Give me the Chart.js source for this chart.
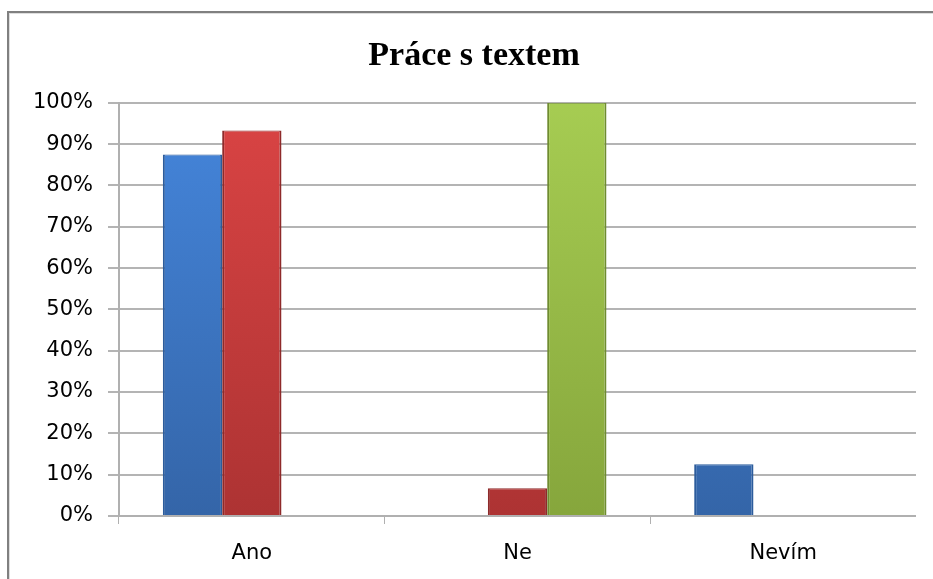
<!DOCTYPE html>
<html>
<head>
<meta charset="utf-8">
<script src="https://cdn.jsdelivr.net/npm/chart.js@4/dist/chart.umd.min.js"></script>
<style>
  html, body { margin:0; padding:0; background:#fff; overflow:hidden; width:933px; height:579px; position:relative; }
  .frame { position:absolute; left:7px; top:11px; width:1200px; height:1200px;
           border-left:2px solid #808080; border-top:2px solid #808080; }
  .frame-in { position:absolute; left:9px; top:13px; width:1200px; height:1200px;
              border-left:1px solid #dedede; border-top:1px solid #dedede; }
  .wrap { position:absolute; left:8px; top:11px; width:908px; height:580px; }
</style>
</head>
<body>
<div class="frame"></div>
<div class="frame-in"></div>
<div class="wrap"><canvas id="c"></canvas></div>
<script>
/* chart values */
var CATEGORIES = ['Ano', 'Ne', 'Nevím'];
var SERIES_1   = [87.5, 0, 12.5];   // blue
var SERIES_2   = [93.3, 6.7, 0];    // red
var SERIES_3   = [0, 100, 0];       // green
var Y_TICKS    = [0, 10, 20, 30, 40, 50, 60, 70, 80, 90, 100];
var TITLE      = 'Práce s textem';

function grad(top, bottom) {
  return function(ctx) {
    var ca = ctx.chart.chartArea;
    if (!ca) return top;
    var g = ctx.chart.ctx.createLinearGradient(0, ca.top, 0, ca.bottom);
    g.addColorStop(0, top);
    g.addColorStop(1, bottom);
    return g;
  };
}

function ds(data, top, bottom, border) {
  return {
    data: data,
    backgroundColor: grad(top, bottom),
    borderColor: border,
    borderWidth: { left: 2, right: 2, top: 1, bottom: 0 },
    borderSkipped: 'bottom',
    categoryPercentage: 0.67,
    barPercentage: 1
  };
}

new Chart(document.getElementById('c'), {
  type: 'bar',
  data: {
    labels: CATEGORIES,
    datasets: [
      ds(SERIES_1, '#4586dc', '#3465a8', '#2c5c9c'),
      ds(SERIES_2, '#da4444', '#ad3333', '#8e2a2a'),
      ds(SERIES_3, '#a6cc52', '#86a63c', '#6f8c30')
    ]
  },
  options: {
    responsive: true, maintainAspectRatio: false, animation: false,
    // left padding pushes the title towards the middle of the frame
    layout: { padding: { left: 24, right: 0, top: 0, bottom: 0 } },
    plugins: {
      legend: { display: false },
      tooltip: { enabled: false },
      title: {
        display: true, text: TITLE, color: '#000',
        font: { family: '"Liberation Serif", serif', size: 34, weight: 'bold' },
        padding: { top: 25, bottom: 26 }
      }
    },
    scales: {
      x: {
        grid: { drawOnChartArea: false, drawTicks: true, tickLength: 8, color: '#b0b0b0', lineWidth: 1 },
        border: { display: true, color: '#b0b0b0', width: 2 },
        ticks: { color: '#000', padding: 17, font: { family: '"DejaVu Sans", sans-serif', size: 21 } },
        afterFit: function(s) { s.height = 75; }
      },
      y: {
        min: 0, max: 100,
        afterBuildTicks: function(s) { s.ticks = Y_TICKS.map(function(v){ return { value: v }; }); },
        grid: { color: '#b4b4b4', lineWidth: 2, tickLength: 11 },
        border: { display: true, color: '#b0b0b0', width: 2 },
        ticks: {
          color: '#000', padding: 15,
          font: { family: '"DejaVu Sans", sans-serif', size: 21 },
          callback: function(v) { return v + '%'; }
        },
        afterFit: function(s) { s.width = 87; }
      }
    }
  }
});
</script>
</body>
</html>
